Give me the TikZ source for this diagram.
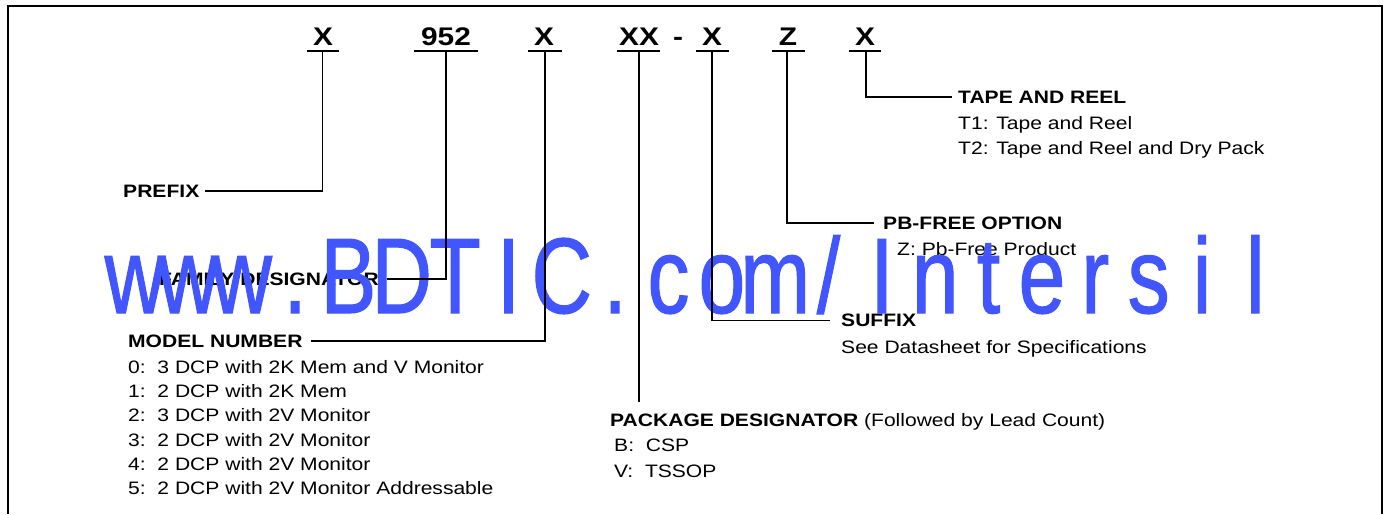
\documentclass[tikz,border=0pt]{standalone}
\usepackage{fontspec}
\setmainfont{Liberation Sans}[FakeStretch=1.17]
\newfontfamily\wmfont{Liberation Sans}[FakeStretch=0.78,FakeBold=1.0]
\definecolor{wmblue}{RGB}{66,86,255}
\tikzset{
  code/.style={font=\fontsize{25.5}{28}\selectfont\bfseries, anchor=base, inner sep=0pt},
  ttl/.style={font=\fontsize{18}{20}\selectfont\bfseries, anchor=base west, inner sep=0pt},
  ttlr/.style={font=\fontsize{18}{20}\selectfont\bfseries, anchor=base east, inner sep=0pt},
  item/.style={font=\fontsize{18}{20}\selectfont, anchor=base west, inner sep=0pt},
  conn/.style={line width=1.7pt},
  uline/.style={line width=1.7pt},
  frameline/.style={line width=2pt},
  wm/.style={font=\wmfont\fontsize{107.5}{110}\selectfont, text=wmblue, anchor=base, inner sep=0pt}
}
\begin{document}
\begin{tikzpicture}[x=1pt,y=-1pt]
\useasboundingbox (0,0) rectangle (1384,514);
\draw[frameline] (7.5,514) -- (7.5,5.5) -- (1381.5,5.5) -- (1381.5,514);

% code letters
\node[code] (c1) at (323,45) {X};
\node[code] (c2) at (446,45) {952};
\node[code] (c3) at (544,45) {X};
\node[code] (c4) at (639,45) {XX};
\node[code] (dash) at (678,45) {-};
\node[code] (c5) at (712,45) {X};
\node[code] (c6) at (788,45) {Z};
\node[code] (c7) at (865,45) {X};

\coordinate (u1) at (322.6,51);
\coordinate (u2) at (446,51);
\coordinate (u3) at (545,51);
\coordinate (u4) at (639,51);
\coordinate (u5) at (712,51);
\coordinate (u6) at (787,51);
\coordinate (u7) at (866,51);

% labels
\node[ttlr] (prefix) at (199.5,197.3) {PREFIX};
\node[ttlr] (fam) at (379,285) {FAMILY DESIGNATOR};
\node[ttl] (model) at (128,347) {MODEL NUMBER};
\node[item] (m0) at (128,373.3) {0:\ \ 3 DCP with 2K Mem and V Monitor};
\node[item] (m1) at (128,397.5) {1:\ \ 2 DCP with 2K Mem};
\node[item] (m2) at (128,421.7) {2:\ \ 3 DCP with 2V Monitor};
\node[item] (m3) at (128,446) {3:\ \ 2 DCP with 2V Monitor};
\node[item] (m4) at (128,470.3) {4:\ \ 2 DCP with 2V Monitor};
\node[item] (m5) at (128,494.6) {5:\ \ 2 DCP with 2V Monitor Addressable};

\node[item] (pkg) at (610,426) {\textbf{PACKAGE DESIGNATOR} (Followed by Lead Count)};
\node[item] (pkb) at (614,451.7) {B:\ \ CSP};
\node[item] (pkv) at (614,477) {V:\ \ TSSOP};
\coordinate (pkend) at (639,401.7);

\node[ttl] (suffix) at (841,326.7) {SUFFIX};
\node[item] (sfx) at (841,353) {See Datasheet for Specifications};

\node[ttl] (pb) at (883,229.3) {PB-FREE OPTION};
\node[item] (pbz) at (897,255) {Z:\ Pb-Free Product};

\node[ttl] (tape) at (958,103.3) {TAPE AND REEL};
\node[item] (t1) at (958,129.5) {T1: Tape and Reel};
\node[item] (t2) at (958,154.5) {T2: Tape and Reel and Dry Pack};

% watermark
\foreach \ch [count=\i from 0] in {w,w,w,.,B,D,T,I,C,.,c,o,m,/,I,n,t,e,r,s,i,l}
  \node[wm] (wm\i) at (135+53.35*\i,313) {\ch};

% underlines
\draw[uline] ([xshift=-16pt]u1) -- ([xshift=16pt]u1);
\draw[uline] ([xshift=-32pt]u2) -- ([xshift=32pt]u2);
\draw[uline] ([xshift=-17pt]u3) -- ([xshift=17pt]u3);
\draw[uline] ([xshift=-22pt]u4) -- ([xshift=21pt]u4);
\draw[uline] ([xshift=-16pt]u5) -- ([xshift=17pt]u5);
\draw[uline] ([xshift=-15pt]u6) -- ([xshift=18pt]u6);
\draw[uline] ([xshift=-17pt]u7) -- ([xshift=15pt]u7);

% connectors
\draw[conn] (u1) |- ([xshift=5.5pt]prefix.east);
\draw[conn] (u2) |- ([xshift=8pt]fam.east);
\draw[conn] (u3) |- ([xshift=8pt]model.east);
\draw[conn] (u4) -- (pkend);
\draw[conn] (u5) |- ([xshift=-11pt]suffix.west);
\draw[conn] (u6) |- ([xshift=-9pt]pb.west);
\draw[conn] (u7) |- ([xshift=-6pt]tape.west);
\end{tikzpicture}
\end{document}
